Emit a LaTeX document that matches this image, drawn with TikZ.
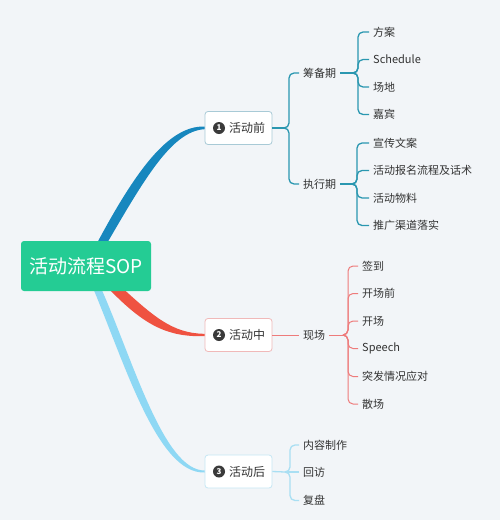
\documentclass[tikz,border=0pt]{standalone}
\usepackage{fontspec}
\setmainfont{Noto Sans CJK SC}
\usetikzlibrary{calc}
\definecolor{bg}{HTML}{F2F5F8}
\definecolor{rootc}{HTML}{24CC94}
\definecolor{blue1}{HTML}{1787BE}
\definecolor{red1}{HTML}{EF5241}
\definecolor{lblue}{HTML}{8ED8F4}
\definecolor{c1l}{HTML}{2A97B0}
\definecolor{c2l}{HTML}{EE7B7B}
\definecolor{c3l}{HTML}{A9DFF3}
\definecolor{bd1}{HTML}{A8CAD6}
\definecolor{bd2}{HTML}{F0B9B9}
\definecolor{bd3}{HTML}{C6E7F4}
\definecolor{txt}{HTML}{333333}
\definecolor{badgec}{HTML}{3A3A3A}
\begin{document}
\begin{tikzpicture}[x=1pt,y=-1pt,
  leaf/.style={anchor=west, inner xsep=4pt, inner ysep=1pt, font=\fontsize{11}{13}\selectfont, text=txt},
  topic/.style={draw, fill=white, rounded corners=3pt, minimum width=67pt, minimum height=33pt, inner sep=0pt, font=\fontsize{12}{14}\selectfont, text=txt, line width=0.8pt},
  badge/.style={circle, fill=badgec, text=white, inner sep=0pt, minimum size=12pt, font=\fontsize{8}{8}\selectfont\bfseries},
  br1/.style={draw=c1l, line width=1.3pt},
  br2/.style={draw=c2l, line width=1pt},
  br3/.style={draw=c3l, line width=1.3pt},
  brace/.style={rounded corners=5pt},
]
\fill[bg] (0,0) rectangle (500,520);
\useasboundingbox (0,0) rectangle (500,520);

% positions of nodes
\coordinate (rc) at (86,266);
\node[topic, draw=bd1] (n1) at (238.5,128) {\hspace{17pt}活动前};
\node[badge] (b1) at (219,128) {1};
\node[topic, draw=bd2] (n2) at (238.5,335) {\hspace{17pt}活动中};
\node[badge] (b2) at (219,335) {2};
\node[topic, draw=bd3] (n3) at (238.5,471.5) {\hspace{17pt}活动后};
\node[badge] (b3) at (219,471.5) {3};

% tapered main connectors
\fill[blue1] ($(rc)+(10,-21)$) .. controls (135,172) and (168,125.5) .. ($(n1.west)+(0,-1.5)$)
  -- ($(n1.west)+(0,1.2)$) .. controls (172,131) and (145,178) .. ($(rc)+(20,-21)$) -- cycle;
\fill[red1] ($(rc)+(32,18)$) .. controls (153,316) and (172,333.5) .. ($(n2.west)+(0,-1.2)$)
  -- ($(n2.west)+(0,1.2)$) .. controls (168,337) and (145,326) .. ($(rc)+(24,24)$) -- cycle;
\fill[lblue] ($(rc)+(15,22)$) .. controls (134,363) and (164,470.5) .. ($(n3.west)+(0,-1)$)
  -- ($(n3.west)+(0,1)$) .. controls (158,474) and (126,367) .. ($(rc)+(7,22)$) -- cycle;

% root
\node[fill=rootc, rounded corners=3pt, minimum width=130pt, minimum height=50pt, inner sep=0pt,
  text=white, font=\fontsize{19}{22}\selectfont] (root) at (rc) {活动流程SOP};

% level 2
\node[leaf] (p1) at (299,73) {筹备期};
\node[leaf] (p2) at (299,184) {执行期};
\node[leaf] (p3) at (299,335) {现场};

% leaves
\node[leaf] (a1) at (369,32) {方案};
\node[leaf] (a2) at (369,59.5) {Schedule};
\node[leaf] (a3) at (369,87) {场地};
\node[leaf] (a4) at (369,114.5) {嘉宾};
\node[leaf] (e1) at (369,143) {宣传文案};
\node[leaf] (e2) at (369,170.5) {活动报名流程及话术};
\node[leaf] (e3) at (369,198) {活动物料};
\node[leaf] (e4) at (369,225.5) {推广渠道落实};
\node[leaf] (s1) at (358,266) {签到};
\node[leaf] (s2) at (358,293.5) {开场前};
\node[leaf] (s3) at (358,321) {开场};
\node[leaf] (s4) at (358,348.5) {Speech};
\node[leaf] (s5) at (358,376.5) {突发情况应对};
\node[leaf] (s6) at (358,404) {散场};
\node[leaf] (f1) at (299,445) {内容制作};
\node[leaf] (f2) at (299,472) {回访};
\node[leaf] (f3) at (299,500.5) {复盘};

% brackets
\coordinate (k1) at (284,128);
\draw[br1] (n1.east) -- (k1);
\foreach \c in {p1,p2} \draw[br1,brace] (k1) -| ($(k1 |- \c.west)+(5,0)$) -- (\c.west);
\coordinate (k2) at (353,73);
\draw[br1] (p1.east) -- (k2);
\foreach \c in {a1,a2,a3,a4} \draw[br1,brace] (k2) -| ($(k2 |- \c.west)+(5,0)$) -- (\c.west);
\coordinate (k3) at (352,184);
\draw[br1] (p2.east) -- (k3);
\foreach \c in {e1,e2,e3,e4} \draw[br1,brace] (k3) -| ($(k3 |- \c.west)+(5,0)$) -- (\c.west);

\draw[br2] (n2.east) -- (p3.west);
\coordinate (k4) at (343,335);
\draw[br2] (p3.east) -- (k4);
\foreach \c in {s1,s2,s3,s4,s5,s6} \draw[br2,brace] (k4) -| ($(k4 |- \c.west)+(5,0)$) -- (\c.west);

\coordinate (k5) at (285,472);
\draw[br3] (n3.east) -- (k5);
\draw[br3] (k5) -- (f2.west);
\foreach \c in {f1,f3} \draw[br3,brace] (k5) -| ($(k5 |- \c.west)+(5,0)$) -- (\c.west);
\end{tikzpicture}
\end{document}
